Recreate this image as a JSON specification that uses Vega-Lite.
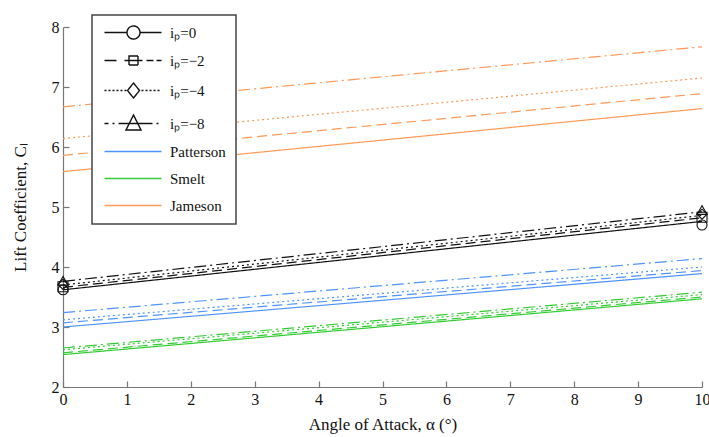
{
  "$schema": "https://vega.github.io/schema/vega-lite/v6.json",
  "width": 639,
  "height": 360,
  "autosize": "none",
  "padding": {"left": 63, "top": 27, "right": 7, "bottom": 50},
  "background": "white",
  "config": {
    "font": "Liberation Serif",
    "view": {"stroke": null},
    "axis": {
      "grid": false,
      "domainColor": "#777",
      "domainWidth": 1.2,
      "tickColor": "#777",
      "tickWidth": 1.2,
      "labelFont": "Liberation Serif",
      "labelFontSize": 16,
      "labelColor": "#111",
      "titleFont": "Liberation Serif",
      "titleFontSize": 17,
      "titleFontWeight": "normal",
      "titleColor": "#111"
    }
  },
  "datasets": {
    "lines": [
      {"alpha": 0, "CL": 3.62, "ip": "0", "key": "iₚ=0"},
      {"alpha": 10, "CL": 4.76, "ip": "0", "key": "iₚ=0"},
      {"alpha": 0, "CL": 3.66, "ip": "-2", "key": "iₚ=−2"},
      {"alpha": 10, "CL": 4.82, "ip": "-2", "key": "iₚ=−2"},
      {"alpha": 0, "CL": 3.70, "ip": "-4", "key": "iₚ=−4"},
      {"alpha": 10, "CL": 4.86, "ip": "-4", "key": "iₚ=−4"},
      {"alpha": 0, "CL": 3.76, "ip": "-8", "key": "iₚ=−8"},
      {"alpha": 10, "CL": 4.92, "ip": "-8", "key": "iₚ=−8"},
      {"alpha": 0, "CL": 3.00, "ip": "0", "key": "Patterson"},
      {"alpha": 10, "CL": 3.89, "ip": "0", "key": "Patterson"},
      {"alpha": 0, "CL": 3.07, "ip": "-2", "key": "Patterson"},
      {"alpha": 10, "CL": 3.94, "ip": "-2", "key": "Patterson"},
      {"alpha": 0, "CL": 3.12, "ip": "-4", "key": "Patterson"},
      {"alpha": 10, "CL": 4.00, "ip": "-4", "key": "Patterson"},
      {"alpha": 0, "CL": 3.24, "ip": "-8", "key": "Patterson"},
      {"alpha": 10, "CL": 4.14, "ip": "-8", "key": "Patterson"},
      {"alpha": 0, "CL": 2.54, "ip": "0", "key": "Smelt"},
      {"alpha": 10, "CL": 3.47, "ip": "0", "key": "Smelt"},
      {"alpha": 0, "CL": 2.57, "ip": "-2", "key": "Smelt"},
      {"alpha": 10, "CL": 3.50, "ip": "-2", "key": "Smelt"},
      {"alpha": 0, "CL": 2.62, "ip": "-4", "key": "Smelt"},
      {"alpha": 10, "CL": 3.54, "ip": "-4", "key": "Smelt"},
      {"alpha": 0, "CL": 2.65, "ip": "-8", "key": "Smelt"},
      {"alpha": 10, "CL": 3.58, "ip": "-8", "key": "Smelt"},
      {"alpha": 0, "CL": 5.59, "ip": "0", "key": "Jameson"},
      {"alpha": 10, "CL": 6.64, "ip": "0", "key": "Jameson"},
      {"alpha": 0, "CL": 5.86, "ip": "-2", "key": "Jameson"},
      {"alpha": 10, "CL": 6.89, "ip": "-2", "key": "Jameson"},
      {"alpha": 0, "CL": 6.14, "ip": "-4", "key": "Jameson"},
      {"alpha": 10, "CL": 7.15, "ip": "-4", "key": "Jameson"},
      {"alpha": 0, "CL": 6.67, "ip": "-8", "key": "Jameson"},
      {"alpha": 10, "CL": 7.67, "ip": "-8", "key": "Jameson"}
    ],
    "points": [
      {"alpha": 0, "CL": 3.62, "ip": "0"},
      {"alpha": 10, "CL": 4.70, "ip": "0"},
      {"alpha": 0, "CL": 3.67, "ip": "-2"},
      {"alpha": 10, "CL": 4.83, "ip": "-2"},
      {"alpha": 0, "CL": 3.71, "ip": "-4"},
      {"alpha": 10, "CL": 4.88, "ip": "-4"},
      {"alpha": 0, "CL": 3.77, "ip": "-8"},
      {"alpha": 10, "CL": 4.95, "ip": "-8"}
    ]
  },
  "layer": [
    {
      "data": {"name": "lines"},
      "mark": {"type": "line", "strokeWidth": 1.2},
      "encoding": {
        "x": {
          "field": "alpha", "type": "quantitative",
          "scale": {"domain": [0, 10], "nice": false},
          "axis": {"title": "Angle of Attack, α (°)", "values": [0,1,2,3,4,5,6,7,8,9,10], "format": "d", "tickSize": -6, "labelPadding": 10, "titlePadding": 9, "labelFlush": false}
        },
        "y": {
          "field": "CL", "type": "quantitative",
          "scale": {"domain": [2, 8], "nice": false},
          "axis": {"title": "Lift Coefficient, Cₗ", "values": [2,3,4,5,6,7,8], "format": "d", "tickSize": -6, "labelPadding": 10, "titlePadding": 22, "labelFlush": false}
        },
        "color": {
          "field": "key", "type": "nominal",
          "scale": {
            "domain": ["iₚ=0", "iₚ=−2", "iₚ=−4", "iₚ=−8", "Patterson", "Smelt", "Jameson"],
            "range": ["#111111", "#111111", "#111111", "#111111", "#4d94ff", "#33cc33", "#ff9955"]
          },
          "legend": {
            "title": null,
            "orient": "none",
            "legendX": 29,
            "legendY": -12,
            "direction": "vertical",
            "symbolSize": 100,
            "symbolStrokeWidth": 1.4,
            "labelOffset": 53,
            "padding": 10,
            "rowPadding": 11,
            "strokeColor": "#444",
            "fillColor": "white",
            "labelFont": "Liberation Serif",
            "labelFontSize": 15,
            "labelColor": "#111",
            "encode": {
              "symbols": {
                "update": {
                  "shape": {"signal": "['M-1,0H3.5M6.1,0H10.4M3.5,0A1.3,1.3 0 1,1 6.1,0A1.3,1.3 0 1,1 3.5,0Z', 'M-1,0H1.4M3,0H6.6M7.4,0H8.8M9.4,0H10.4M3.9,-0.9H5.7V0.9H3.9Z', 'M-1,0h0.4M-0.2,0h0.4M0.6,0h0.4M1.4,0h0.4M2.2,0h0.4M3,0h0.4M6.4,0h0.4M7.2,0h0.4M8,0h0.4M8.8,0h0.4M9.6,0h0.4M4.8,-1.5L6,0L4.8,1.5L3.6,0Z', 'M-1,0H-0.2M0.6,0H1M1.8,0H8.6M9.4,0H9.8M4.8,-1.7L6.3,1.3H3.3Z', 'M-1,0H10.4', 'M-1,0L10.4,0', 'M-1,0h11.4'][datum.index]"},
                  "stroke": {"scale": "color", "field": "value"},
                  "fill": {"value": "transparent"},
                  "strokeDash": {"value": [1, 0]}
                }
              },
              "legend": {"update": {"strokeWidth": {"value": 1.5}}}
            }
          }
        },
        "strokeDash": {
          "field": "ip", "type": "nominal",
          "scale": {"domain": ["0", "-2", "-4", "-8"], "range": [[1, 0], [10, 5], [2, 3], [12, 4, 2, 4]]},
          "legend": null
        }
      }
    },
    {
      "data": {"name": "points"},
      "mark": {"type": "point", "filled": false, "color": "#111111", "strokeWidth": 1.1, "size": 100, "opacity": 1},
      "encoding": {
        "x": {"field": "alpha", "type": "quantitative"},
        "y": {"field": "CL", "type": "quantitative"},
        "shape": {
          "field": "ip", "type": "nominal",
          "scale": {"domain": ["0", "-2", "-4", "-8"], "range": ["circle", "square", "diamond", "triangle-up"]},
          "legend": null
        }
      }
    }
  ]
}
